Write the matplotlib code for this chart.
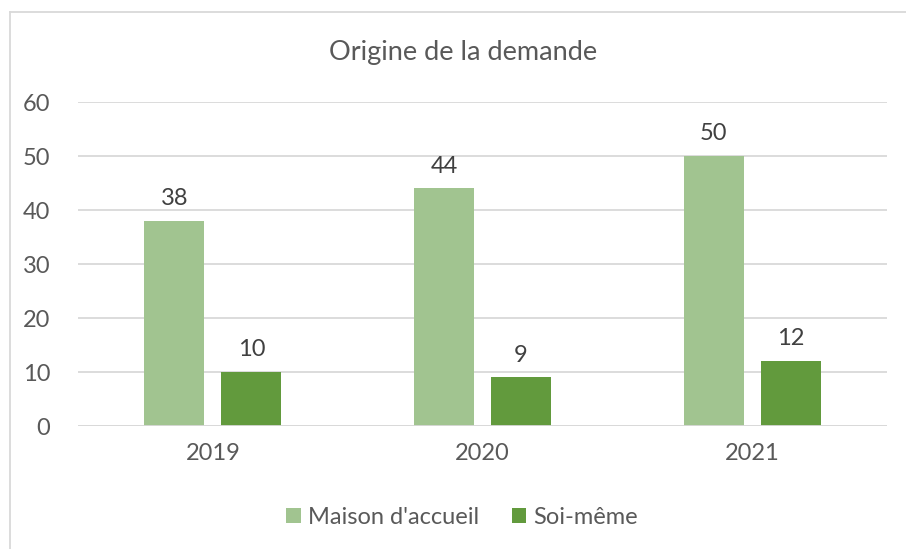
import matplotlib.pyplot as plt
import numpy as np
from matplotlib.lines import Line2D

years = ['2019', '2020', '2021']
maison = [38, 44, 50]
soi_meme = [10, 9, 12]
series_names = ["Maison d'accueil", 'Soi-même']

plt.rcParams['font.family'] = ['Lato', 'DejaVu Sans']
txt = '#595959'
light = '#A1C490'
dark = '#629A3D'

fig = plt.figure(figsize=(9.06, 5.49), dpi=100)
ax = fig.add_axes([0.0861, 0.224, 0.893, 0.590])

x = np.arange(len(years))
w = 0.222
b1 = ax.bar(x - 0.143, maison, w, color=light, label=series_names[0], zorder=3)
b2 = ax.bar(x + 0.143, soi_meme, w, color=dark, label=series_names[1], zorder=3)

for bars in (b1, b2):
    for r in bars:
        ax.text(r.get_x() + r.get_width() / 2, r.get_height() + 2.2, str(int(r.get_height())),
                ha='center', va='bottom', fontsize=17, color='#404040')

ax.set_xlim(-0.5, 2.5)
ax.set_ylim(0, 60)
ax.set_yticks(range(0, 61, 10))
ax.set_xticks(x)
ax.set_xticklabels(years)
ax.yaxis.grid(True, color='#D9D9D9', linewidth=1.3, zorder=0)
for s in ax.spines.values():
    s.set_visible(False)
ax.axhline(0, color='#D9D9D9', linewidth=1.3, zorder=4)
ax.tick_params(length=0, labelsize=17, colors=txt)
ax.tick_params(axis='y', pad=20)
ax.tick_params(axis='x', pad=12)

fig.text(0.511, 0.905, 'Origine de la demande', ha='center', va='center', fontsize=19.5, color=txt)

fig.legend(handles=[b1, b2], loc='center', bbox_to_anchor=(0.51, 0.058), ncol=2,
           frameon=False, fontsize=17, labelcolor=txt, handlelength=0.6, handleheight=0.6,
           handletextpad=0.3, columnspacing=1.4)

# chart border (top and left visible)
fig.add_artist(Line2D([0.0105, 1.0], [0.978, 0.978], color='#D9D9D9', linewidth=1.3, transform=fig.transFigure))
fig.add_artist(Line2D([0.0105, 0.0105], [0.0, 0.978], color='#D9D9D9', linewidth=1.3, transform=fig.transFigure))

fig.savefig('out.png', dpi=100)
